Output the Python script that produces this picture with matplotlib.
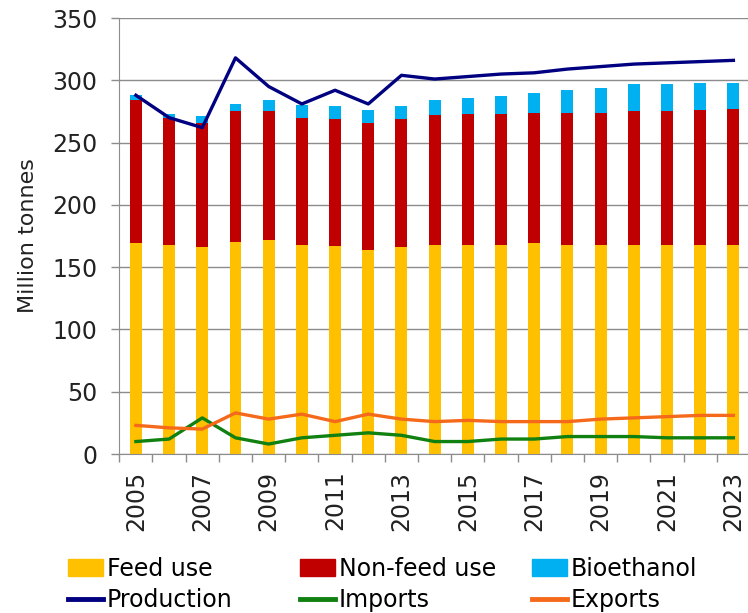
import numpy as np
import matplotlib
matplotlib.use("Agg")
import matplotlib.pyplot as plt
from matplotlib.patches import Patch
from matplotlib.lines import Line2D

years = list(range(2005, 2024))
feed_use = [169, 168, 166, 170, 172, 168, 167, 164, 166, 168,
            168, 168, 169, 168, 168, 168, 168, 168, 168]
non_feed_use = [115, 102, 100, 105, 103, 102, 102, 102, 103, 104,
                105, 105, 105, 106, 106, 107, 107, 108, 109]
bioethanol = [4, 3, 5, 6, 9, 10, 10, 10, 10, 12,
              13, 14, 16, 18, 20, 22, 22, 22, 21]
production = [288, 270, 262, 318, 295, 281, 292, 281, 304, 301,
              303, 305, 306, 309, 311, 313, 314, 315, 316]
imports = [10, 12, 29, 13, 8, 13, 15, 17, 15, 10,
           10, 12, 12, 14, 14, 14, 13, 13, 13]
exports = [23, 21, 20, 33, 28, 32, 26, 32, 28, 26,
           27, 26, 26, 26, 28, 29, 30, 31, 31]

c_feed = "#FFC000"
c_nonfeed = "#C00000"
c_bio = "#00B0F0"
c_prod = "#000080"
c_imp = "#108010"
c_exp = "#F56A1A"

plt.rcParams["font.family"] = "DejaVu Sans"

fig = plt.figure(figsize=(7.48, 6.13), dpi=100)
ax = fig.add_axes([119.3 / 748, 1 - 454 / 613, (750 - 119.3) / 748, (454 - 18) / 613])

x = np.arange(len(years))
w = 0.36
feed = np.array(feed_use)
nonfeed = np.array(non_feed_use)
ax.bar(x, feed, w, color=c_feed, zorder=2)
ax.bar(x, nonfeed, w, bottom=feed, color=c_nonfeed, zorder=2)
ax.bar(x, bioethanol, w, bottom=feed + nonfeed, color=c_bio, zorder=2)

ax.plot(x, production, color=c_prod, lw=2.4, zorder=3)
ax.plot(x, imports, color=c_imp, lw=2.4, zorder=3)
ax.plot(x, exports, color=c_exp, lw=2.4, zorder=3)

ax.set_xlim(-0.5, len(years) - 0.5)
ax.set_ylim(0, 350)
ax.set_yticks(np.arange(0, 351, 50))
ax.yaxis.grid(True, color="#8c8c8c", lw=1, zorder=0)
ax.set_axisbelow(True)

ax.set_xticks(x[::2])
ax.set_xticklabels([str(y) for y in years[::2]], rotation=90)
ax.set_xticks(np.arange(-0.5, len(years), 1), minor=True)
ax.tick_params(axis="x", which="major", length=0, pad=12, labelsize=17, labelcolor="#222222")
ax.tick_params(axis="x", which="minor", length=6, color="#8c8c8c", width=1)
ax.tick_params(axis="y", length=6, color="#8c8c8c", width=1, labelsize=17, labelcolor="#222222", pad=10)

for s in ["top", "right"]:
    ax.spines[s].set_visible(False)
for s in ["left", "bottom"]:
    ax.spines[s].set_color("#8c8c8c")

ax.set_ylabel("Million tonnes", fontsize=16, color="#222222", labelpad=10)

# legend: three columns placed by hand
cols = [
    (68, [Patch(color=c_feed), Line2D([], [], color=c_prod, lw=3.5)], ["Feed use", "Production"]),
    (300, [Patch(color=c_nonfeed), Line2D([], [], color=c_imp, lw=3.5)], ["Non-feed use", "Imports"]),
    (532, [Patch(color=c_bio), Line2D([], [], color=c_exp, lw=3.5)], ["Bioethanol", "Exports"]),
]
for xpos, hs, labels in cols:
    fig.legend(hs, labels, loc="upper left", bbox_to_anchor=(xpos / 748, 1 - 557 / 613),
               frameon=False, fontsize=17, handlelength=1.5, handleheight=0.75,
               handletextpad=0.15, labelspacing=0.3, borderpad=0, borderaxespad=0)

fig.savefig("out.png", dpi=100)
